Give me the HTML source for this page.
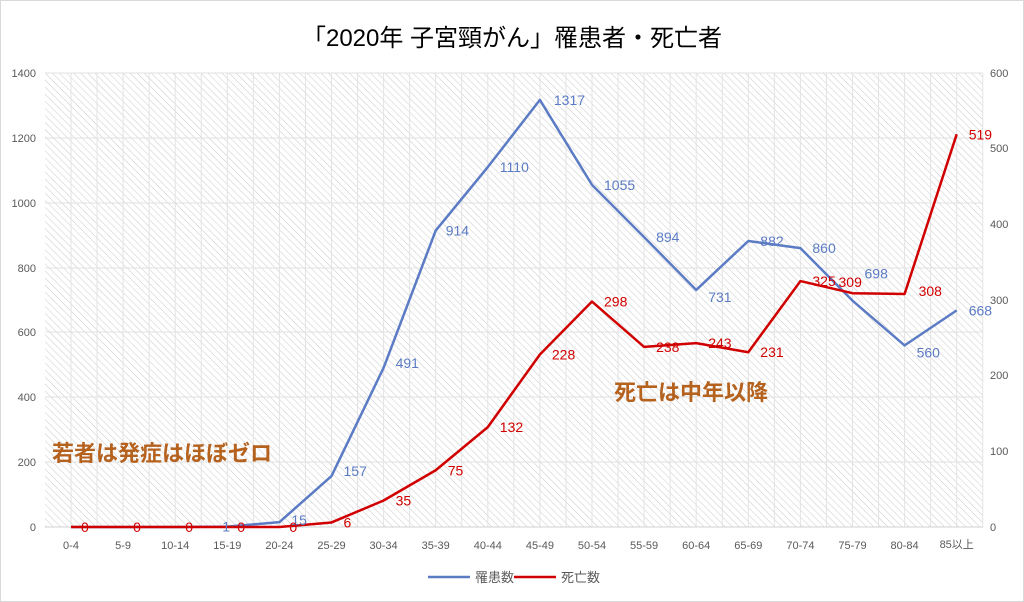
<!DOCTYPE html>
<html><head><meta charset="utf-8"><style>
body{margin:0;background:#fff;}
svg{display:block;font-family:"Liberation Sans","Noto Sans CJK JP",sans-serif;}
</style></head><body>
<svg width="1024" height="602" viewBox="0 0 1024 602">
<defs>
<pattern id="h" width="5" height="5" patternUnits="userSpaceOnUse" patternTransform="rotate(-45)">
<line x1="0" y1="0" x2="0" y2="5" stroke="#cdcdcd" stroke-width="1.1"/>
</pattern>
</defs>
<rect x="0.5" y="0.5" width="1023" height="601" fill="#fff" stroke="#d9d9d9"/>
<text x="512" y="46" text-anchor="middle" font-size="24" fill="#000">「2020年  子宮頸がん」罹患者・死亡者</text>
<rect x="45" y="73" width="938" height="454" fill="url(#h)"/>
<g stroke="#e0e0e0" stroke-width="1">
<line x1="45" y1="73" x2="983" y2="73"/><line x1="45" y1="138" x2="983" y2="138"/>
<line x1="45" y1="203" x2="983" y2="203"/><line x1="45" y1="268" x2="983" y2="268"/>
<line x1="45" y1="332" x2="983" y2="332"/><line x1="45" y1="397" x2="983" y2="397"/>
<line x1="45" y1="462" x2="983" y2="462"/>
</g>
<g id="vg" stroke="#e3e3e3"></g>
<line x1="45" y1="527" x2="983" y2="527" stroke="#d0d0d0"/>
<g font-size="11" fill="#595959" text-anchor="end">
<text x="36" y="77">1400</text><text x="36" y="142">1200</text><text x="36" y="207">1000</text>
<text x="36" y="272">800</text><text x="36" y="336">600</text><text x="36" y="401">400</text>
<text x="36" y="466">200</text><text x="36" y="531">0</text>
</g>
<g font-size="11" fill="#595959">
<text x="990" y="77">600</text><text x="990" y="152">500</text><text x="990" y="228">400</text>
<text x="990" y="304">300</text><text x="990" y="379">200</text><text x="990" y="455">100</text>
<text x="990" y="531">0</text>
</g>
<g id="xl" font-size="11" fill="#595959" text-anchor="middle"></g>
<polyline id="blue" fill="none" stroke="#5b7bc4" stroke-width="2.5" stroke-linejoin="round"/>
<polyline id="red" fill="none" stroke="#d10000" stroke-width="2.5" stroke-linejoin="round"/>
<g id="lb" font-size="14"></g>
<text x="52" y="461" font-size="22" font-weight="bold" fill="#b5621e">若者は発症はほぼゼロ</text>
<text x="614" y="400" font-size="22" font-weight="bold" fill="#b5621e">死亡は中年以降</text>
<line x1="428" y1="577" x2="470" y2="577" stroke="#5b7bc4" stroke-width="2.5"/>
<text x="475" y="582" font-size="13" fill="#595959">罹患数</text>
<line x1="514" y1="577" x2="556" y2="577" stroke="#d10000" stroke-width="2.5"/>
<text x="561" y="582" font-size="13" fill="#595959">死亡数</text>
</svg>
<script>
var cats=["0-4","5-9","10-14","15-19","20-24","25-29","30-34","35-39","40-44","45-49","50-54","55-59","60-64","65-69","70-74","75-79","80-84","85以上"];
var B=[0,0,0,1,15,157,491,914,1110,1317,1055,894,731,882,860,698,560,668];
var R=[0,0,0,0,0,6,35,75,132,228,298,238,243,231,325,309,308,519];
var ns="http://www.w3.org/2000/svg";
function X(i){return 71+52.1*i;}
function YB(v){return 527-v/1400*454;}
function YR(v){return 527-v/600*454;}
var vg=document.getElementById("vg");
for(var x=71;x<983;x+=26.05){var l=document.createElementNS(ns,"line");l.setAttribute("x1",x);l.setAttribute("x2",x);l.setAttribute("y1",73);l.setAttribute("y2",527);vg.appendChild(l);}
var xl=document.getElementById("xl");
cats.forEach(function(c,i){var t=document.createElementNS(ns,"text");t.setAttribute("x",X(i));t.setAttribute("y",i==17?548:549);t.textContent=c;xl.appendChild(t);});
document.getElementById("blue").setAttribute("points",B.map(function(v,i){return X(i)+","+YB(v)}).join(" "));
document.getElementById("red").setAttribute("points",R.map(function(v,i){return X(i)+","+YR(v)}).join(" "));
var lb=document.getElementById("lb");
function add(x,y,s,c){var t=document.createElementNS(ns,"text");t.setAttribute("x",x);t.setAttribute("y",y);t.setAttribute("fill",c);t.textContent=s;lb.appendChild(t);}
var bo={5:[12,0],6:[12,0],7:[10,5],8:[12,5],9:[14,5],10:[12,5],11:[12,5],12:[12,12],13:[12,5],14:[12,5],15:[12,-22],16:[12,12],17:[12,5]};
B.forEach(function(v,i){if(i<3)return;var o=bo[i]||[8,5];if(i==3){add(X(i)-5,YB(v)+5,"1","#5b7bc4");return;}if(i==4){add(X(i)+12,YB(v)+3,"15","#5b7bc4");return;}add(X(i)+o[0],YB(v)+o[1],String(v),"#5b7bc4");});
var ro={15:[-14,-6],16:[14,2]};
R.forEach(function(v,i){var o=ro[i]||[12,5];if(i<5)o=[10,5];add(X(i)+o[0],YR(v)+o[1],String(v),"#d10000");});
</script>
</body></html>
